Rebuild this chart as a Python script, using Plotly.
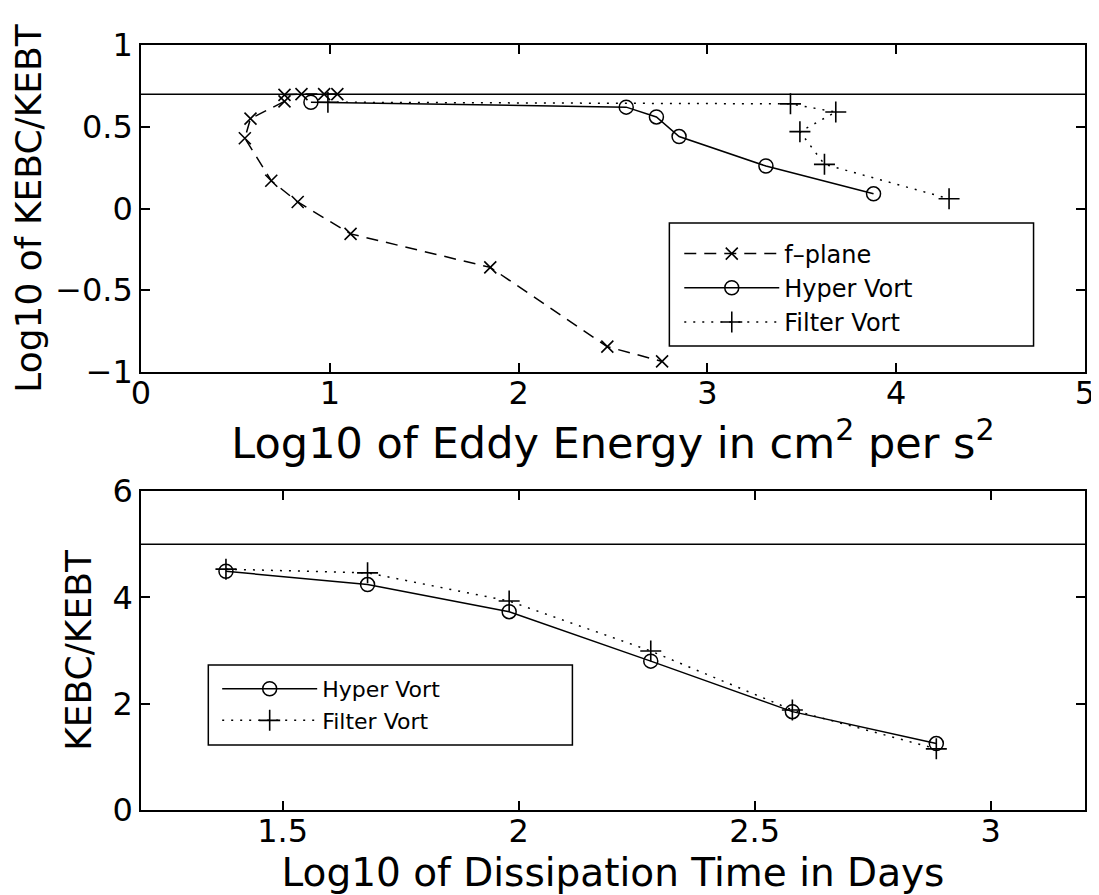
import plotly.graph_objects as go

# ---------------- data ----------------
# Top panel: log10 eddy energy (x) vs log10 KEBC/KEBT (y)
fplane_x = [1.04, 0.97, 0.85, 0.76, 0.76, 0.58, 0.55, 0.69, 0.83, 1.11, 1.85, 2.47, 2.76]
fplane_y = [0.70, 0.70, 0.70, 0.695, 0.655, 0.55, 0.43, 0.17, 0.04, -0.155, -0.36, -0.845, -0.935]

hyper_top_x = [0.90, 2.57, 2.73, 2.85, 3.31, 3.88]
hyper_top_y = [0.65, 0.62, 0.56, 0.44, 0.26, 0.09]

filter_top_x = [0.99, 3.44, 3.68, 3.49, 3.62, 4.28]
filter_top_y = [0.65, 0.64, 0.59, 0.47, 0.27, 0.06]

top_ref_level = 0.699  # log10(5)

# Bottom panel: log10 dissipation time (days) vs KEBC/KEBT
diss_x = [1.38, 1.68, 1.98, 2.28, 2.58, 2.885]
hyper_bot_y = [4.49, 4.24, 3.73, 2.80, 1.85, 1.25]
filter_bot_y = [4.53, 4.46, 3.93, 2.99, 1.88, 1.15]

bot_ref_level = 5.0

top_xticks = [0, 1, 2, 3, 4, 5]
top_yticks = [-1, -0.5, 0, 0.5, 1]
bot_xticks = [1.5, 2, 2.5, 3]
bot_yticks = [0, 2, 4, 6]

# ---------------- styling ----------------
FONT = "DejaVu Sans"
BLACK = "black"
LW = 1.5

fplane_style = dict(line=dict(color=BLACK, width=LW, dash="12px,8px"),
                    marker=dict(symbol="x-thin-open", size=12, color=BLACK,
                                line=dict(color=BLACK, width=1.6)))
hyper_style = dict(line=dict(color=BLACK, width=LW),
                   marker=dict(symbol="circle-open", size=14, color=BLACK,
                               line=dict(color=BLACK, width=1.5)))
filter_style = dict(line=dict(color=BLACK, width=LW, dash="2px,7px"),
                    marker=dict(symbol="cross-thin-open", size=15, color=BLACK,
                                line=dict(color=BLACK, width=1.6)))

fig = go.Figure()

fig.add_trace(go.Scatter(x=fplane_x, y=fplane_y, mode="lines+markers", name="f–plane",
                         xaxis="x", yaxis="y", legend="legend", **fplane_style))
fig.add_trace(go.Scatter(x=hyper_top_x, y=hyper_top_y, mode="lines+markers", name="Hyper Vort",
                         xaxis="x", yaxis="y", legend="legend", **hyper_style))
fig.add_trace(go.Scatter(x=filter_top_x, y=filter_top_y, mode="lines+markers", name="Filter Vort",
                         xaxis="x", yaxis="y", legend="legend", **filter_style))

fig.add_trace(go.Scatter(x=diss_x, y=hyper_bot_y, mode="lines+markers", name="Hyper Vort",
                         xaxis="x2", yaxis="y2", legend="legend2", **hyper_style))
fig.add_trace(go.Scatter(x=diss_x, y=filter_bot_y, mode="lines+markers", name="Filter Vort",
                         xaxis="x2", yaxis="y2", legend="legend2", **filter_style))

# reference levels
fig.add_shape(type="line", xref="x domain", yref="y", x0=0, x1=1,
              y0=top_ref_level, y1=top_ref_level, line=dict(color=BLACK, width=LW))
fig.add_shape(type="line", xref="x2 domain", yref="y2", x0=0, x1=1,
              y0=bot_ref_level, y1=bot_ref_level, line=dict(color=BLACK, width=LW))

# legend frames (MATLAB-style boxes)
fig.add_shape(type="rect", xref="paper", yref="paper", x0=0.5597, x1=0.9455, y0=0.6065, y1=0.7673,
              line=dict(color=BLACK, width=1.5), fillcolor="white", layer="above")
fig.add_shape(type="rect", xref="paper", yref="paper", x0=0.0713, x1=0.457, y0=0.085, y1=0.1895,
              line=dict(color=BLACK, width=1.5), fillcolor="white", layer="above")

axis_common = dict(
    showline=True, linecolor=BLACK, linewidth=LW, mirror="ticks",
    ticks="inside", ticklen=9, tickwidth=1.5, tickcolor=BLACK,
    showgrid=False, zeroline=False,
    tickfont=dict(family=FONT, size=32, color=BLACK),
)
ytitle_font = dict(family=FONT, size=36, color=BLACK)

legend_common = dict(bgcolor="rgba(0,0,0,0)", borderwidth=0,
                     itemwidth=95, tracegroupgap=0,
                     xanchor="left", yanchor="middle")

fig.update_layout(
    width=1099, height=895,
    margin=dict(l=132, r=13, t=37, b=93),
    paper_bgcolor="white", plot_bgcolor="white",
    font=dict(family=FONT, color=BLACK),
    xaxis=dict(domain=[0, 1], range=[0, 5], tickvals=top_xticks, anchor="y",
               ticklabelstandoff=-8,
               title=dict(text="Log10 of Eddy Energy in cm<sup>2</sup> per s<sup>2</sup>",
                          font=dict(family=FONT, size=43, color=BLACK), standoff=2),
               **axis_common),
    yaxis=dict(domain=[0.5725, 1.0], range=[-1, 1], tickvals=top_yticks, anchor="x",
               title=dict(text="Log10 of KEBC/KEBT", font=ytitle_font, standoff=10),
               **axis_common),
    xaxis2=dict(domain=[0, 1], range=[1.2, 3.2], tickvals=bot_xticks, anchor="y2",
                ticklabelstandoff=-8,
                title=dict(text="Log10 of Dissipation Time in Days",
                           font=dict(family=FONT, size=39, color=BLACK), standoff=2),
                **axis_common),
    yaxis2=dict(domain=[0.0, 0.417], range=[0, 6], tickvals=bot_yticks, anchor="x2",
                title=dict(text="KEBC/KEBT", font=ytitle_font, standoff=10),
                **axis_common),
    legend=dict(x=0.5702, y=0.6824, font=dict(family=FONT, size=24, color=BLACK), **legend_common),
    legend2=dict(x=0.0807, y=0.1373, font=dict(family=FONT, size=22, color=BLACK), **legend_common),
    showlegend=True,
)

fig.write_html("out.html")
